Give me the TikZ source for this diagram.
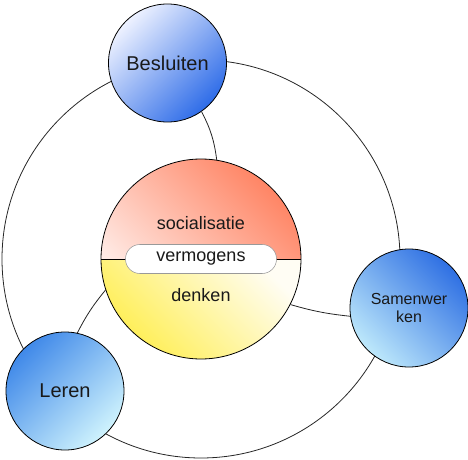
\documentclass[tikz,border=0pt]{standalone}
\usepackage{fontspec}
\setmainfont{Liberation Sans}
\usetikzlibrary{positioning}

\definecolor{besluitlight}{HTML}{EEF2FF}
\definecolor{besluitdark}{HTML}{2E6CE8}
\definecolor{samendark}{HTML}{2F70E3}
\definecolor{samenlight}{HTML}{BDE8FB}
\definecolor{lerendark}{HTML}{4089E9}
\definecolor{lerenlight}{HTML}{CFF3FD}
\definecolor{socialtop}{HTML}{FF8565}
\definecolor{denkenyellow}{HTML}{FFEE50}
\definecolor{denkenlight}{HTML}{FFFDF4}

\begin{document}
\begin{tikzpicture}[
		x=0.75pt, y=-0.75pt,
		every node/.style={text=black!90},
		topic/.style={circle, draw, line width=0.6pt, minimum size=88.5pt, inner sep=0pt, font=\fontsize{15}{18}\selectfont},
		coreball/.style={circle, draw, line width=0.6pt, minimum size=150pt, inner sep=0pt},
		ring/.style={draw=black!85, line width=0.6pt},
		spoke/.style={draw=black!85, line width=0.6pt},
		pill/.style={draw=black!40, fill=white, rounded corners=10.8pt, minimum width=113.25pt, minimum height=21.75pt, inner sep=0pt, font=\fontsize{13.5}{16}\selectfont},
		corelabel/.style={font=\fontsize{13.5}{16}\selectfont, inner sep=0pt},
		]
		\useasboundingbox (0,0) rectangle (468,460);
		
		% Central ball, split in two halves
		\node[coreball, path picture={
			\shade[top color=socialtop, bottom color=white, shading angle=-45] (path picture bounding box.west) rectangle (path picture bounding box.north east);
			\shade[top color=denkenlight, bottom color=denkenyellow, shading angle=-45] (path picture bounding box.south west) rectangle (path picture bounding box.east);
			\draw[line width=0.6pt] (path picture bounding box.west) -- (path picture bounding box.east);
		}] (core) at (201,259) {};
		
		% Outer ring
		\draw[ring] (core.center) circle[radius=149.25pt];
		
		% Topics on the ring
		\node[topic, top color=besluitlight, bottom color=besluitdark, shading angle=45] (besluiten) at (167.5,63) {Besluiten};
		\node[topic, top color=samendark, bottom color=samenlight, shading angle=-45, align=center, font=\fontsize{12}{13.5}\selectfont] (samenwerken) at (409,308) {Samenwer\\ken};
		\node[topic, top color=lerendark, bottom color=lerenlight, shading angle=45] (leren) at (65,391) {Leren};
		
		% Spokes to the centre
		\draw[spoke] (besluiten.-55) to[bend left=10] (core.81);
		\draw[spoke] (core.-27) to[bend right=5] (samenwerken.188);
		\draw[spoke] (leren.78) to[bend left=6] (core.198);
		
		% Labels in the centre
		\node[pill] (vermogens) at (core.center) {vermogens};
		\node[corelabel, above=11pt of vermogens] (socialisatie) {socialisatie};
		\node[corelabel, below=11pt of vermogens] (denken) {denken};
		
	\end{tikzpicture}
\end{document}
